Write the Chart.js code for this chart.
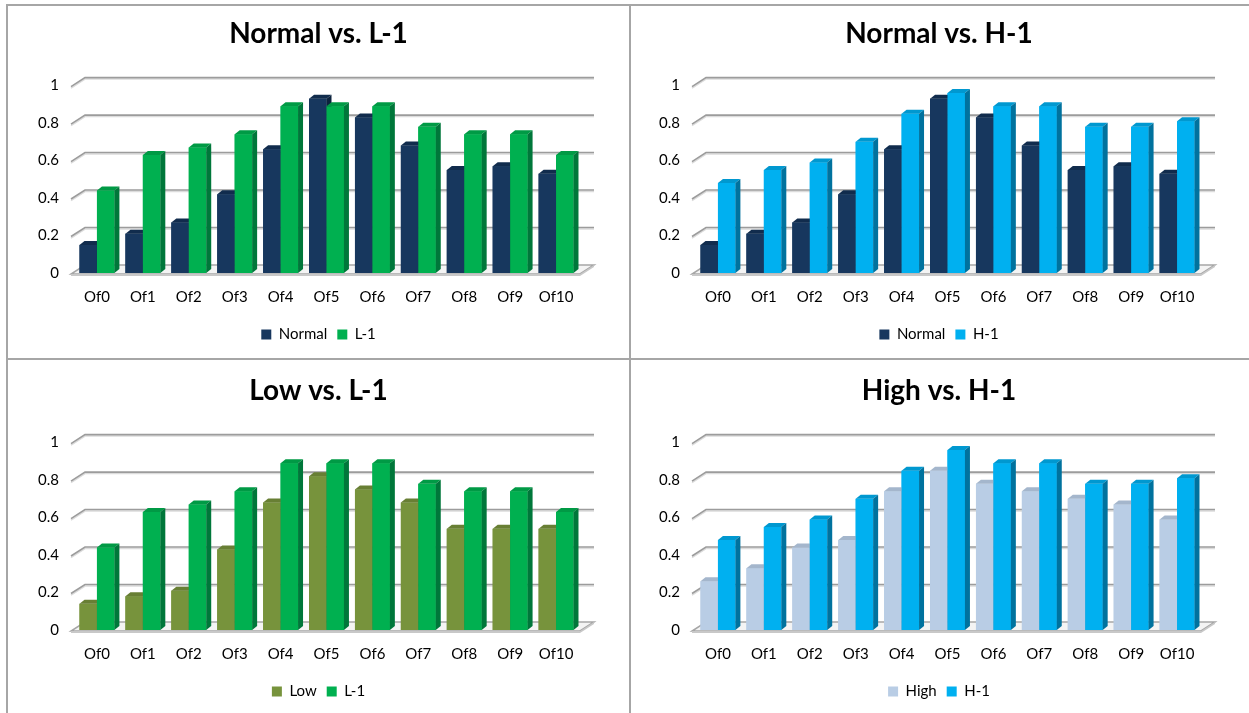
<!DOCTYPE html>
<html>
<head>
<meta charset="utf-8">
<script src="https://cdn.jsdelivr.net/npm/chart.js@4.4.1/dist/chart.umd.min.js"></script>
<style>
  html, body { margin: 0; padding: 0; background: #fff; }
  body { position: relative; width: 1249px; height: 713px; overflow: hidden; }
  canvas { position: absolute; }
  .rule { position: absolute; background: #a6a6a6; }
</style>
</head>
<body>
<div class="rule" style="left:6px;top:4px;width:1243px;height:2px"></div>
<div class="rule" style="left:6px;top:4px;width:2px;height:709px"></div>
<div class="rule" style="left:629px;top:4px;width:2px;height:709px"></div>
<div class="rule" style="left:6px;top:358px;width:1243px;height:2px"></div>

<canvas id="c1" width="621" height="352" style="left:8px;top:6px"></canvas>
<canvas id="c2" width="620" height="352" style="left:629px;top:6px"></canvas>
<canvas id="c3" width="621" height="352" style="left:8px;top:363px"></canvas>
<canvas id="c4" width="620" height="352" style="left:629px;top:363px"></canvas>

<script>
// Offsets
const categories = ['Of0', 'Of1', 'Of2', 'Of3', 'Of4', 'Of5', 'Of6', 'Of7', 'Of8', 'Of9', 'Of10'];

// Series values (fraction, 0..1)
const normal = [0.15, 0.21, 0.27, 0.42, 0.66, 0.93, 0.83, 0.68, 0.55, 0.57, 0.53];
const low    = [0.14, 0.18, 0.21, 0.43, 0.68, 0.82, 0.75, 0.68, 0.54, 0.54, 0.54];
const high   = [0.26, 0.33, 0.44, 0.48, 0.74, 0.85, 0.78, 0.74, 0.70, 0.67, 0.59];
const l1     = [0.44, 0.63, 0.67, 0.74, 0.89, 0.89, 0.89, 0.78, 0.74, 0.74, 0.63];
const h1     = [0.48, 0.55, 0.59, 0.70, 0.85, 0.96, 0.89, 0.89, 0.78, 0.78, 0.81];

// Value axis
const yMin = 0;
const yMax = 1;
const yStep = 0.2;

// Face colours for each series: front, top cap, right side
const palette = {
  'Normal': { front: '#17375E', top: '#112c4d', side: '#0c223d' },
  'L-1':    { front: '#00B050', top: '#009a45', side: '#00773a' },
  'H-1':    { front: '#00B0F0', top: '#0098d0', side: '#00729e' },
  'Low':    { front: '#77933C', top: '#687f34', side: '#556a2a' },
  'High':   { front: '#B9CDE5', top: '#a4b6cc', side: '#8c9db2' }
};

const BAR_DEPTH = { dx: 5, dy: 4 };     // extrusion of each column
const WALL_DEPTH = { dx: 14, dy: 9 };   // offset of the back wall from the front plane

function poly(ctx, pts, fill) {
  ctx.beginPath();
  ctx.moveTo(pts[0][0], pts[0][1]);
  for (let k = 1; k < pts.length; k++) ctx.lineTo(pts[k][0], pts[k][1]);
  ctx.closePath();
  ctx.fillStyle = fill;
  ctx.fill();
}

// Draws the floor, the back-wall gridlines and the extruded columns
const column3d = {
  id: 'column3d',
  beforeDatasetsDraw(chart) {
    const { ctx, chartArea: a, scales: { y } } = chart;
    const y0 = y.getPixelForValue(0);
    const L = a.left - 3, R = a.right + 1;
    ctx.save();
    // floor slab
    const fy = y0 + 1;
    poly(ctx, [[L, fy], [R, fy], [R + WALL_DEPTH.dx, fy - WALL_DEPTH.dy], [L + WALL_DEPTH.dx, fy - WALL_DEPTH.dy]], '#f4f4f4');
    ctx.strokeStyle = '#a6a6a6';
    ctx.lineWidth = 1.5;
    ctx.stroke();
    ctx.fillStyle = '#c8c8c8';
    ctx.fillRect(L, fy, R - L, 2);
    poly(ctx, [[R, fy], [R + WALL_DEPTH.dx, fy - WALL_DEPTH.dy], [R + WALL_DEPTH.dx, fy - WALL_DEPTH.dy + 2], [R, fy + 2]], '#c8c8c8');
    // gridlines on the side and back walls
    y.ticks.forEach(t => {
      if (t.value === yMin) return;
      const py = y.getPixelForValue(t.value) + 1;
      const path = () => {
        ctx.beginPath();
        ctx.moveTo(L, py);
        ctx.lineTo(L + WALL_DEPTH.dx, py - WALL_DEPTH.dy);
        ctx.lineTo(R + WALL_DEPTH.dx, py - WALL_DEPTH.dy);
      };
      ctx.save();
      ctx.translate(0, 1.5);
      path();
      ctx.strokeStyle = '#dcdcdc';
      ctx.lineWidth = 1.5;
      ctx.stroke();
      ctx.restore();
      path();
      ctx.strokeStyle = '#9c9c9c';
      ctx.lineWidth = 1.6;
      ctx.stroke();
    });
    ctx.restore();
  },
  afterDatasetsDraw(chart) {
    const { ctx } = chart;
    const sets = chart.data.datasets;
    const metas = sets.map((d, i) => chart.getDatasetMeta(i));
    const n = chart.data.labels.length;
    const { dx, dy } = BAR_DEPTH;
    ctx.save();
    for (let i = 0; i < n; i++) {
      metas.forEach((m, d) => {
        const el = m.data[i];
        const c = palette[sets[d].label];
        const { x, y, base, width } = el.getProps(['x', 'y', 'base', 'width'], true);
        const l = x - width / 2, r = x + width / 2;
        ctx.fillStyle = c.front;
        ctx.fillRect(l, y, width, base - y);
        poly(ctx, [[l, y], [l + dx, y - dy], [r + dx, y - dy], [r, y]], c.top);
        poly(ctx, [[r, y], [r + dx, y - dy], [r + dx, base - dy], [r, base]], c.side);
      });
    }
    ctx.restore();
  }
};

Chart.defaults.font.family = 'Lato, "Open Sans", sans-serif';
Chart.defaults.color = '#000';

function makeChart(id, title, series) {
  const canvas = document.getElementById(id);
  const rightGap = canvas.width - 571;
  return new Chart(canvas, {
    type: 'bar',
    data: {
      labels: categories,
      datasets: series.map(s => ({
        label: s.label,
        data: s.data,
        backgroundColor: palette[s.label].front,
        borderWidth: 0,
        categoryPercentage: 0.76,
        barPercentage: 1
      }))
    },
    options: {
      responsive: false,
      animation: false,
      devicePixelRatio: 1,
      layout: { padding: { left: 0, right: 0, top: 0, bottom: 6 } },
      plugins: {
        title: {
          display: true,
          text: title,
          color: '#000',
          font: { size: 28, weight: 'bold' },
          padding: { top: 11, bottom: 35 }
        },
        legend: {
          position: 'bottom',
          labels: {
            boxWidth: 10,
            boxHeight: 10,
            padding: 10,
            color: '#000',
            font: { size: 15 }
          }
        },
        tooltip: { enabled: false }
      },
      scales: {
        x: {
          grid: { display: false, drawTicks: false },
          border: { display: false },
          ticks: { padding: 15, font: { size: 15 }, color: '#000' },
          afterFit(s) { s.height = 44; }
        },
        y: {
          min: yMin,
          max: yMax,
          grid: { display: false, drawTicks: false },
          border: { display: false },
          ticks: {
            stepSize: yStep,
            padding: 15,
            font: { size: 15 },
            color: '#000',
            callback: v => String(Math.round(v * 10) / 10)
          },
          afterFit(s) { s.width = 66; }
        },
        // empty right-hand margin that holds the depth of the back wall
        yRight: {
          position: 'right',
          min: yMin,
          max: yMax,
          grid: { display: false, drawTicks: false },
          border: { display: false },
          ticks: { display: false },
          afterFit(s) { s.width = rightGap; }
        }
      }
    },
    plugins: [column3d]
  });
}

makeChart('c1', 'Normal vs. L-1', [{ label: 'Normal', data: normal }, { label: 'L-1', data: l1 }]);
makeChart('c2', 'Normal vs. H-1', [{ label: 'Normal', data: normal }, { label: 'H-1', data: h1 }]);
makeChart('c3', 'Low vs. L-1',    [{ label: 'Low', data: low },       { label: 'L-1', data: l1 }]);
makeChart('c4', 'High vs. H-1',   [{ label: 'High', data: high },     { label: 'H-1', data: h1 }]);
</script>
</body>
</html>
